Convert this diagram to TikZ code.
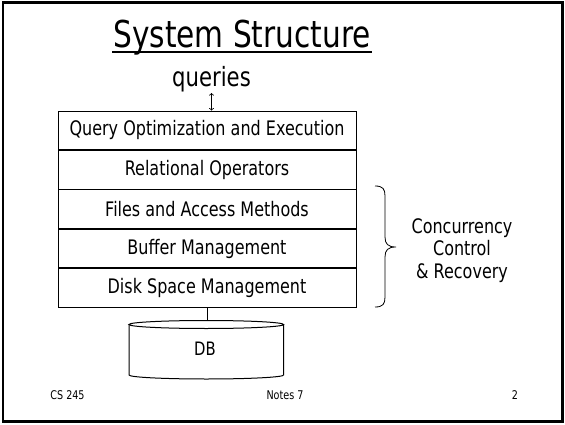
\documentclass[tikz,border=0pt]{standalone}
\usepackage{fontspec}
\setmainfont{DejaVu Sans}[FakeStretch=0.8]
\begin{document}
\begin{tikzpicture}[x=1pt,y=1pt,
  layer/.style={draw,line width=0.8pt,minimum width=298pt,minimum height=38.6pt,inner sep=0pt,font=\fontsize{20}{24}\selectfont},
  foot/.style={font=\fontsize{12}{14}\selectfont,anchor=base},
  thin/.style={line width=0.8pt}]
\useasboundingbox (0,0) rectangle (565,424);
\draw[line width=2.5pt] (3,2.5) rectangle (562.5,421.5);
% title
\node[anchor=base,font=\fontsize{37}{44}\selectfont,inner sep=0pt] (title) at (242,376) {System Structure};
\draw[line width=1.2pt] (112,372) -- (372,372);
% queries
\node[anchor=base,font=\fontsize{26.5}{30}\selectfont,inner sep=0pt] (queries) at (211.5,337) {queries};
% layers
\node[layer] (l1) at (207,293.7) {Query Optimization and Execution};
\node[layer,anchor=north] (l2) at (l1.south) {Relational Operators};
\node[layer,anchor=north] (l3) at (l2.south) {Files and Access Methods};
\node[layer,anchor=north] (l4) at (l3.south) {Buffer Management};
\node[layer,anchor=north] (l5) at (l4.south) {Disk Space Management};
\coordinate (qa) at (211.5,331);
\draw[thin,<->] (qa) -- (qa |- l1.north);
% DB cylinder
\coordinate (dbtop) at (207,103.5);
\draw[thin] (l5.south) -- (dbtop);
\draw[line width=1pt] (129,99.5) -- (129,49) arc[start angle=180,end angle=360,x radius=77.3,y radius=4] -- (283.6,99.5);
\draw[line width=1pt] (206.3,99.5) ellipse[x radius=77.3,y radius=4];
\node[anchor=base,font=\fontsize{18.5}{22}\selectfont,inner sep=0pt] (db) at (205,69) {DB};
% brace
\draw[thin] (375,238) .. controls (383,238) and (385,235) .. (385,228) -- (385,187)
  .. controls (385,180) and (388,177) .. (396,177)
  .. controls (388,177) and (385,174) .. (385,167) -- (385,127)
  .. controls (385,120) and (383,117) .. (375,117);
\node[align=center,font=\fontsize{20}{22.5}\selectfont,inner sep=0pt] (cc) at (462,173.5) {Concurrency\\Control\\\& Recovery};
% footer
\node[foot] (f1) at (67.5,25) {CS 245};
\node[foot] (f2) at (285,25) {Notes 7};
\node[foot] (f3) at (515,25) {2};
\end{tikzpicture}
\end{document}
